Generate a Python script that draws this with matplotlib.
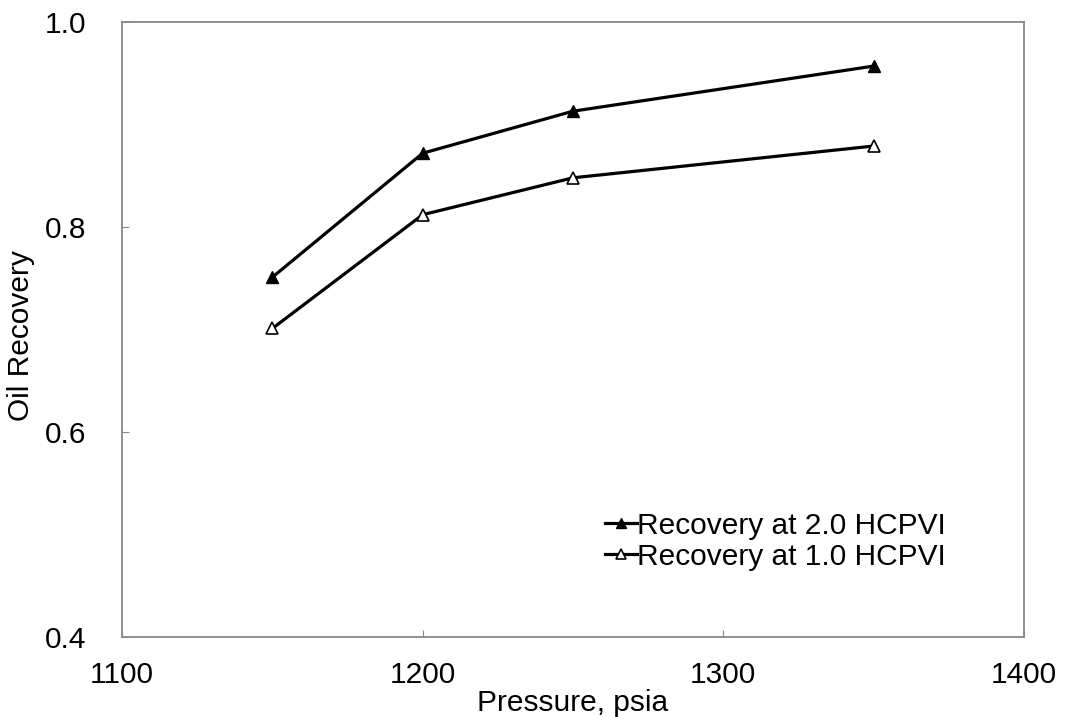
import matplotlib

matplotlib.use("Agg")
import matplotlib.pyplot as plt

plt.rcParams["font.family"] = ["Liberation Sans", "DejaVu Sans"]

# pressure (psia) vs. oil recovery fraction
pressure = [1150, 1200, 1250, 1350]
recovery_2hcpvi = [0.751, 0.872, 0.913, 0.957]
recovery_1hcpvi = [0.701, 0.812, 0.848, 0.879]

x_ticks = [1100, 1200, 1300, 1400]
y_ticks = [0.4, 0.6, 0.8, 1.0]

FS = 21.5

fig = plt.figure(figsize=(10.65, 7.17), dpi=100)
ax = fig.add_axes([0.1146, 0.1116, 0.8469, 0.8577])

ax.plot(pressure, recovery_2hcpvi, color="black", lw=2.3, marker="^",
        markersize=9, markerfacecolor="black", markeredgecolor="black",
        label="Recovery at 2.0 HCPVI")
ax.plot(pressure, recovery_1hcpvi, color="black", lw=2.3, marker="^",
        markersize=9, markerfacecolor="white", markeredgecolor="black",
        markeredgewidth=1.2, label="Recovery at 1.0 HCPVI")

ax.set_xlim(1100, 1400)
ax.set_ylim(0.4, 1.0)
ax.set_xticks(x_ticks)
ax.set_yticks(y_ticks)
ax.set_xticklabels([str(v) for v in x_ticks])
ax.set_yticklabels([f"{v:.1f}" for v in y_ticks])
ax.tick_params(direction="in", length=5, color="#888888", labelsize=FS)
ax.tick_params(axis="x", pad=17)
ax.tick_params(axis="y", pad=26)

for side in ax.spines.values():
    side.set_color("#888888")
    side.set_linewidth(1.3)

ax.set_xlabel("Pressure, psia", fontsize=FS)
ax.xaxis.set_label_coords(0.5, -0.085)
ax.set_ylabel("Oil Recovery", fontsize=FS)
ax.yaxis.set_label_coords(-0.097, 0.49)

ax.legend(loc="upper left", bbox_to_anchor=(0.535, 0.204), frameon=False,
          fontsize=FS, handlelength=1.07, handletextpad=0.0,
          labelspacing=0.1, borderaxespad=0, borderpad=0,
          markerscale=0.8)

fig.savefig("out.png", dpi=100)
